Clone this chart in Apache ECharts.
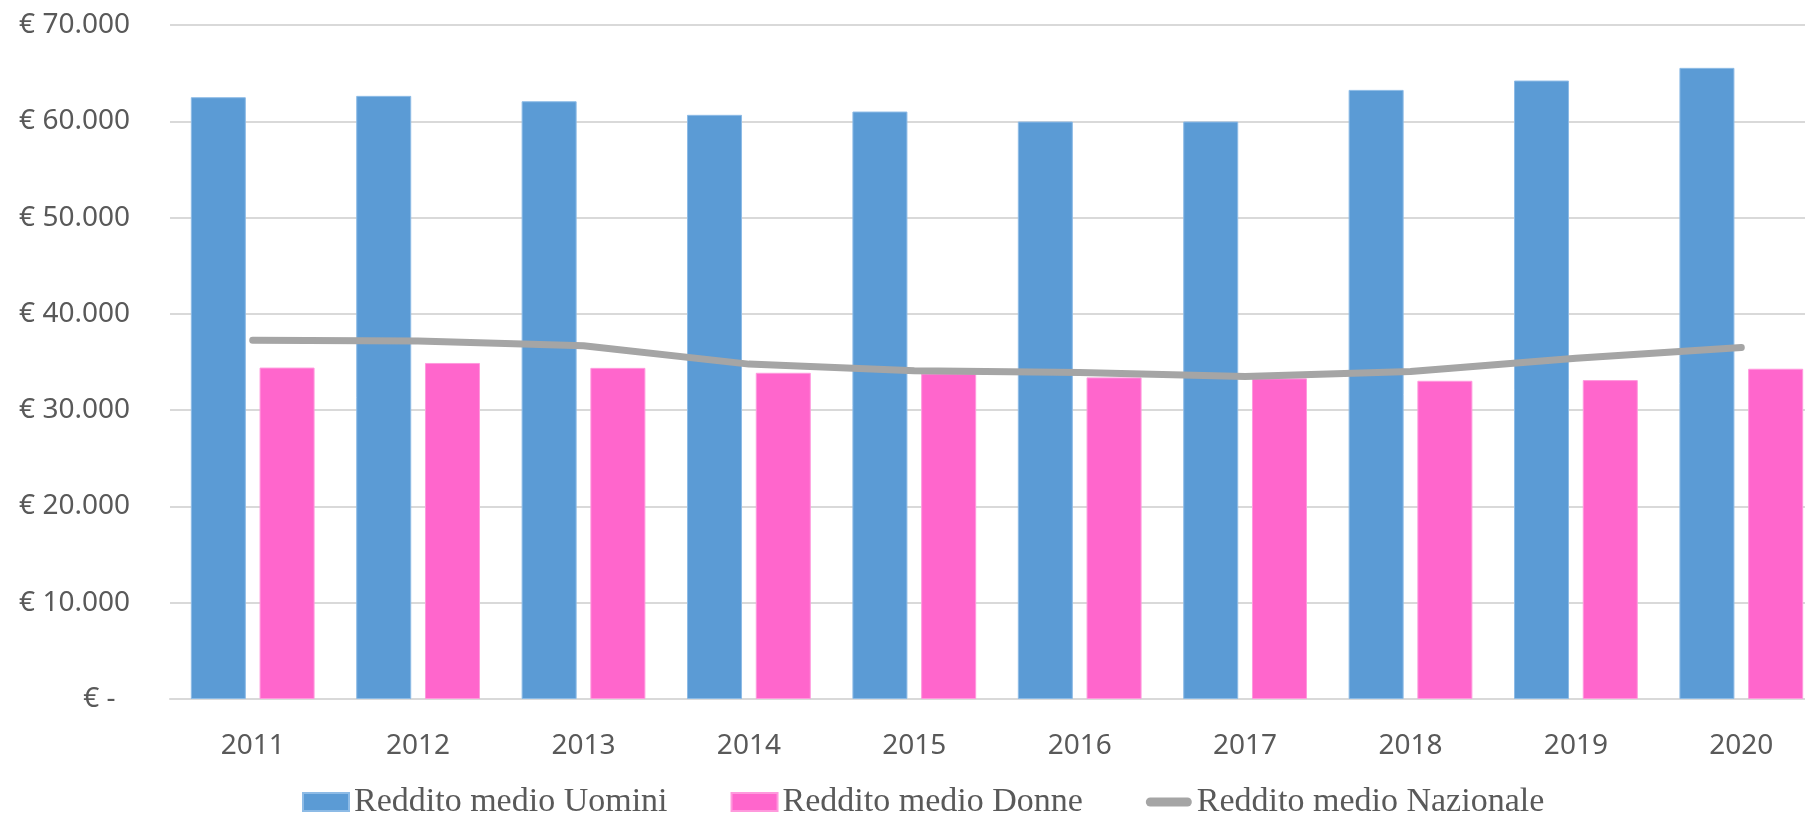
<!DOCTYPE html>
<html>
<head>
    <meta charset="utf-8">
    <script type="text/javascript" src="https://cdn.jsdelivr.net/npm/echarts@6/dist/echarts.min.js"></script>
    <title>Reddito medio</title>
    <style>
        html, body { margin: 0; padding: 0; background: #fff; }
    </style>
</head>
<body>
<div id="main" style="width: 1805px;height:816px;"></div>
<script type="text/javascript">

    var anni = ['2011', '2012', '2013', '2014', '2015', '2016', '2017', '2018', '2019', '2020'];
    var redditoUomini = [62500, 62640, 62080, 60670, 61010, 59970, 59970, 63260, 64230, 65550];
    var redditoDonne = [34420, 34900, 34390, 33880, 33800, 33400, 33300, 33050, 33120, 34300];
    var redditoNazionale = [37270, 37190, 36680, 34780, 34090, 33920, 33500, 34020, 35400, 36500];

    function euro(v) {
        if (v === 0) {
            return '€ -  ';
        }
        var s = String(v);
        var out = '';
        while (s.length > 3) {
            out = '.' + s.slice(-3) + out;
            s = s.slice(0, -3);
        }
        return '€ ' + s + out;
    }

    // icona della linea in legenda: barra grigia arrotondata
    var lineIcon = 'path://M4.5,0 L41.5,0 A4.5,4.5,0,0,1,41.5,9 L4.5,9 A4.5,4.5,0,0,1,4.5,0 Z';

    var myChart = echarts.init(document.getElementById('main'));

    var option = {
        animation: false,
        backgroundColor: '#ffffff',
        grid: {
            left: 170,
            top: 25,
            width: 1654,
            bottom: 117,
            containLabel: false,
            outerBoundsMode: 'none'
        },
        legend: {
            left: 297,
            top: 780,
            itemGap: 63,
            itemWidth: 46,
            itemHeight: 18,
            textStyle: {
                fontFamily: 'Liberation Serif',
                fontSize: 34,
                color: '#595959'
            },
            data: [
                { name: 'Reddito medio Uomini', icon: 'rect' },
                { name: 'Reddito medio Donne', icon: 'rect' },
                { name: 'Reddito medio Nazionale', icon: lineIcon }
            ]
        },
        xAxis: {
            type: 'category',
            data: anni,
            axisTick: { show: false },
            axisLine: { lineStyle: { color: '#D9D9D9', width: 2 } },
            axisLabel: {
                margin: 33,
                fontFamily: 'Noto Sans',
                fontSize: 28,
                color: '#595959'
            }
        },
        yAxis: {
            type: 'value',
            min: 0,
            max: 70000,
            interval: 10000,
            axisLine: { show: false },
            axisTick: { show: false },
            splitLine: { lineStyle: { color: '#D9D9D9', width: 2 } },
            axisLabel: {
                margin: 40,
                fontFamily: 'Noto Sans',
                fontSize: 28,
                color: '#595959',
                formatter: euro
            }
        },
        series: [{
            name: 'Reddito medio Uomini',
            type: 'bar',
            data: redditoUomini,
            barWidth: 55,
            barGap: '25%',
            itemStyle: { color: '#5B9BD5', borderColor: '#8DBBE6', borderWidth: 1 }
        }, {
            name: 'Reddito medio Donne',
            type: 'bar',
            data: redditoDonne,
            barWidth: 55,
            itemStyle: { color: '#FF66CC', borderColor: '#FF99DD', borderWidth: 1 }
        }, {
            name: 'Reddito medio Nazionale',
            type: 'line',
            data: redditoNazionale,
            symbol: 'none',
            lineStyle: { color: '#A5A5A5', width: 7, cap: 'round', join: 'round' },
            itemStyle: { color: '#A5A5A5' }
        }]
    };
    myChart.setOption(option);

</script>
</body>
</html>
